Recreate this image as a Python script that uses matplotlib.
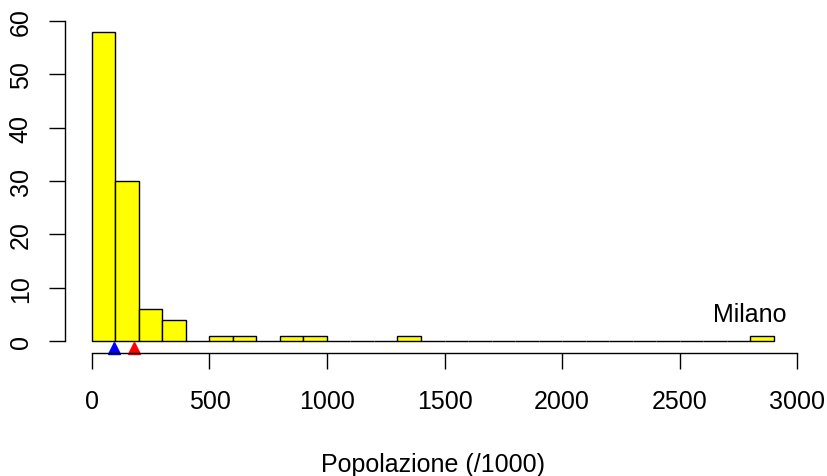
import matplotlib

matplotlib.use("Agg")
import matplotlib.pyplot as plt
import numpy as np

plt.rcParams["font.family"] = ["Liberation Sans", "DejaVu Sans"]

# histogram of city populations (thousands), bins of 100
BIN_EDGES = np.arange(0, 3000, 100)
COUNTS = [58, 30, 6, 4, 0, 1, 1, 0, 1, 1, 0, 0, 0, 1, 0,
          0, 0, 0, 0, 0, 0, 0, 0, 0, 0, 0, 0, 0, 1]
MEDIAN = 94
MEAN = 179
X_TICKS = [0, 500, 1000, 1500, 2000, 2500, 3000]
Y_TICKS = [0, 10, 20, 30, 40, 50, 60]
FS = 18
LW = 1.0


def main() -> None:
    fig = plt.figure(figsize=(8.27, 4.77), dpi=100)
    ax = fig.add_axes([64.7 / 827, 1 - 354.4 / 477, 736.1 / 827, 334.1 / 477])

    lefts = BIN_EDGES[:-1]
    ax.bar(lefts, COUNTS, width=100, align="edge", color="#FFFF00",
           edgecolor="black", linewidth=LW)

    # median and mean markers under the baseline
    ax.plot([MEDIAN], [-1.3], marker="^", color="blue", markersize=8.5,
            linestyle="none", clip_on=False)
    ax.plot([MEAN], [-1.3], marker="^", color="red", markersize=8.5,
            linestyle="none", clip_on=False)

    ax.text(2800, 5, "Milano", ha="center", va="center", fontsize=FS)

    ax.set_xlim(-116, 3016)
    ax.set_ylim(-2.32, 60.32)
    for side in ("top", "right"):
        ax.spines[side].set_visible(False)
    ax.spines["left"].set_bounds(0, 60)
    ax.spines["bottom"].set_bounds(0, 3000)
    for side in ("left", "bottom"):
        ax.spines[side].set_linewidth(LW)

    ax.set_xticks(X_TICKS)
    ax.set_yticks(Y_TICKS)
    ax.set_yticklabels([str(v) for v in Y_TICKS], rotation=90, va="center")
    ax.tick_params(direction="out", length=11.5, width=LW, labelsize=FS)
    ax.tick_params(axis="x", pad=14)
    ax.tick_params(axis="y", pad=11.5)

    fig.text(432.7 / 827, 5 / 477, "Popolazione (/1000)",
             ha="center", va="baseline", fontsize=FS)

    fig.savefig("out.png", dpi=100)


if __name__ == "__main__":
    main()
